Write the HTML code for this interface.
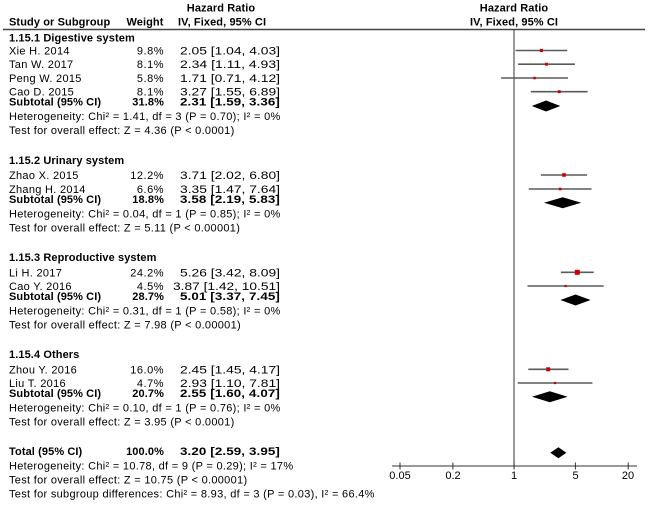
<!DOCTYPE html>
<html><head><meta charset="utf-8">
<style>
html,body{margin:0;padding:0;background:#fff;}
svg{display:block;}
text{font-family:"Liberation Sans",Arial,sans-serif;font-size:11px;fill:#000;}
.r{letter-spacing:0.3px;}
.b{font-weight:bold;letter-spacing:0.1px;}
.w{letter-spacing:0.5px;}
.e{text-anchor:end;}
.m{text-anchor:middle;}
.ci{stroke:#5a5a5a;stroke-width:1.6;}
.sq{fill:#cc0000;}
</style></head>
<body>
<svg width="650" height="505" viewBox="0 0 650 505" xmlns="http://www.w3.org/2000/svg">
<!-- headers -->
<text class="b m" x="221" y="11.5">Hazard Ratio</text>
<text class="b" x="9" y="25.5">Study or Subgroup</text>
<text class="b e" x="163.5" y="25.5">Weight</text>
<text class="b" x="178" y="25.5">IV, Fixed, 95% CI</text>
<text class="b m" x="514" y="11.5">Hazard Ratio</text>
<text class="b m" x="514" y="25.5">IV, Fixed, 95% CI</text>
<line x1="3" y1="29.5" x2="645" y2="29.5" stroke="#444" stroke-width="1.5"/>
<line x1="514" y1="29.5" x2="514" y2="466" stroke="#333" stroke-width="1"/>

<!-- Group 1 -->
<text class="b" x="9" y="41.5">1.15.1 Digestive system</text>
<text class="r" x="9" y="54.5">Xie H. 2014</text><text class="w e" x="164" y="54.5">9.8%</text><text x="180" y="54.5" textLength="100" lengthAdjust="spacingAndGlyphs">2.05 [1.04, 4.03]</text>
<text class="r" x="9" y="68.2">Tan W. 2017</text><text class="w e" x="164" y="68.2">8.1%</text><text x="180" y="68.2" textLength="100" lengthAdjust="spacingAndGlyphs">2.34 [1.11, 4.93]</text>
<text class="r" x="9" y="82">Peng W. 2015</text><text class="w e" x="164" y="82">5.8%</text><text x="180" y="82" textLength="100" lengthAdjust="spacingAndGlyphs">1.71 [0.71, 4.12]</text>
<text class="r" x="9" y="95.7">Cao D. 2015</text><text class="w e" x="164" y="95.7">8.1%</text><text x="180" y="95.7" textLength="100" lengthAdjust="spacingAndGlyphs">3.27 [1.55, 6.89]</text>
<text class="b" x="9" y="105.5">Subtotal (95% CI)</text><text class="b e" x="164" y="105.5">31.8%</text><text class="b" x="180" y="105.5" textLength="100" lengthAdjust="spacingAndGlyphs">2.31 [1.59, 3.36]</text>
<text class="r" x="9" y="120">Heterogeneity: Chi² = 1.41, df = 3 (P = 0.70); I² = 0%</text>
<text class="r" x="9" y="134">Test for overall effect: Z = 4.36 (P &lt; 0.0001)</text>

<!-- Group 2 -->
<text class="b" x="9" y="164">1.15.2 Urinary system</text>
<text class="r" x="9" y="179">Zhao X. 2015</text><text class="w e" x="164" y="179">12.2%</text><text x="180" y="179" textLength="100" lengthAdjust="spacingAndGlyphs">3.71 [2.02, 6.80]</text>
<text class="r" x="9" y="193">Zhang H. 2014</text><text class="w e" x="164" y="193">6.6%</text><text x="180" y="193" textLength="100" lengthAdjust="spacingAndGlyphs">3.35 [1.47, 7.64]</text>
<text class="b" x="9" y="203">Subtotal (95% CI)</text><text class="b e" x="164" y="203">18.8%</text><text class="b" x="180" y="203" textLength="100" lengthAdjust="spacingAndGlyphs">3.58 [2.19, 5.83]</text>
<text class="r" x="9" y="217.5">Heterogeneity: Chi² = 0.04, df = 1 (P = 0.85); I² = 0%</text>
<text class="r" x="9" y="231.5">Test for overall effect: Z = 5.11 (P &lt; 0.00001)</text>

<!-- Group 3 -->
<text class="b" x="9" y="261">1.15.3 Reproductive system</text>
<text class="r" x="9" y="276.3">Li H. 2017</text><text class="w e" x="164" y="276.3">24.2%</text><text x="180" y="276.3" textLength="100" lengthAdjust="spacingAndGlyphs">5.26 [3.42, 8.09]</text>
<text class="r" x="9" y="290">Cao Y. 2016</text><text class="w e" x="164" y="290">4.5%</text><text x="173" y="290" textLength="107" lengthAdjust="spacingAndGlyphs">3.87 [1.42, 10.51]</text>
<text class="b" x="9" y="300">Subtotal (95% CI)</text><text class="b e" x="164" y="300">28.7%</text><text class="b" x="180" y="300" textLength="100" lengthAdjust="spacingAndGlyphs">5.01 [3.37, 7.45]</text>
<text class="r" x="9" y="314.5">Heterogeneity: Chi² = 0.31, df = 1 (P = 0.58); I² = 0%</text>
<text class="r" x="9" y="328.5">Test for overall effect: Z = 7.98 (P &lt; 0.00001)</text>

<!-- Group 4 -->
<text class="b" x="9" y="358">1.15.4 Others</text>
<text class="r" x="9" y="373.3">Zhou Y. 2016</text><text class="w e" x="164" y="373.3">16.0%</text><text x="180" y="373.3" textLength="100" lengthAdjust="spacingAndGlyphs">2.45 [1.45, 4.17]</text>
<text class="r" x="9" y="387">Liu T. 2016</text><text class="w e" x="164" y="387">4.7%</text><text x="180" y="387" textLength="100" lengthAdjust="spacingAndGlyphs">2.93 [1.10, 7.81]</text>
<text class="b" x="9" y="397">Subtotal (95% CI)</text><text class="b e" x="164" y="397">20.7%</text><text class="b" x="180" y="397" textLength="100" lengthAdjust="spacingAndGlyphs">2.55 [1.60, 4.07]</text>
<text class="r" x="9" y="411.5">Heterogeneity: Chi² = 0.10, df = 1 (P = 0.76); I² = 0%</text>
<text class="r" x="9" y="425.5">Test for overall effect: Z = 3.95 (P &lt; 0.0001)</text>

<!-- Total -->
<text class="b" x="9" y="455">Total (95% CI)</text><text class="b e" x="164" y="455">100.0%</text><text class="b" x="180" y="455" textLength="100" lengthAdjust="spacingAndGlyphs">3.20 [2.59, 3.95]</text>
<text class="r" x="9" y="469.5">Heterogeneity: Chi² = 10.78, df = 9 (P = 0.29); I² = 17%</text>
<text class="r" x="9" y="483.5">Test for overall effect: Z = 10.75 (P &lt; 0.00001)</text>
<text class="r" x="9" y="497.5">Test for subgroup differences: Chi² = 8.93, df = 3 (P = 0.03), I² = 66.4%</text>

<!-- Forest: group 1 -->
<line class="ci" x1="515.6" y1="50.5" x2="567.2" y2="50.5"/><rect class="sq" x="539.8" y="48.9" width="3.2" height="3.2"/>
<line class="ci" x1="518.1" y1="64.2" x2="574.9" y2="64.2"/><rect class="sq" x="545.05" y="62.75" width="2.9" height="2.9"/>
<line class="ci" x1="501.1" y1="78" x2="568.0" y2="78"/><rect class="sq" x="533.3" y="76.8" width="2.5" height="2.5"/>
<line class="ci" x1="530.8" y1="91.7" x2="587.6" y2="91.7"/><rect class="sq" x="557.75" y="90.25" width="2.9" height="2.9"/>
<polygon points="531.8,106 546,100.5 560.3,106 546,111.5" fill="#000"/>

<!-- group 2 -->
<line class="ci" x1="540.9" y1="175" x2="587.1" y2="175"/><rect class="sq" x="562.2" y="173.2" width="3.6" height="3.6"/>
<line class="ci" x1="528.8" y1="189" x2="591.5" y2="189"/><rect class="sq" x="558.8" y="187.7" width="2.6" height="2.6"/>
<polygon points="544,202.7 562.7,197.2 581.2,202.7 562.7,208.2" fill="#000"/>

<!-- group 3 -->
<line class="ci" x1="560.9" y1="272.3" x2="593.7" y2="272.3"/><rect class="sq" x="574.8" y="269.8" width="5" height="5"/>
<line class="ci" x1="527.5" y1="286" x2="603.7" y2="286"/><rect class="sq" x="564.5" y="284.9" width="2.2" height="2.2"/>
<polygon points="560.4,300 575.5,294.5 590.6,300 575.5,305.5" fill="#000"/>

<!-- group 4 -->
<line class="ci" x1="528.3" y1="369.3" x2="568.5" y2="369.3"/><rect class="sq" x="546.2" y="367.3" width="4" height="4"/>
<line class="ci" x1="517.7" y1="383" x2="592.4" y2="383"/><rect class="sq" x="553.9" y="381.9" width="2.2" height="2.2"/>
<polygon points="532,396.7 549.8,391.2 567.6,396.7 549.8,402.2" fill="#000"/>

<!-- total -->
<polygon points="550.3,452.7 558.4,447.2 566.4,452.7 558.4,458.2" fill="#000"/>

<!-- axis -->
<line x1="392" y1="466" x2="637" y2="466" stroke="#333" stroke-width="1"/>
<g stroke="#333" stroke-width="1">
<line x1="400" y1="462.5" x2="400" y2="469.5"/>
<line x1="452.9" y1="462.5" x2="452.9" y2="469.5"/>
<line x1="514.1" y1="462.5" x2="514.1" y2="469.5"/>
<line x1="575.4" y1="462.5" x2="575.4" y2="469.5"/>
<line x1="628.2" y1="462.5" x2="628.2" y2="469.5"/>
</g>
<text class="m" x="400" y="479">0.05</text>
<text class="m" x="453" y="479">0.2</text>
<text class="m" x="514" y="479">1</text>
<text class="m" x="575.5" y="479">5</text>
<text class="m" x="628" y="479">20</text>
</svg>
</body></html>
